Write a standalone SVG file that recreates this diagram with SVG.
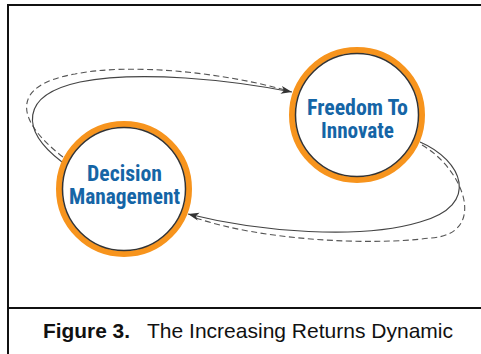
<svg xmlns="http://www.w3.org/2000/svg" width="481" height="354" viewBox="0 0 481 354">
<style>
.frame{stroke:#111;stroke-width:2;fill:none}
.ring{fill:#fff;stroke:#f7941d;stroke-width:6}
.rim{fill:none;stroke:#333;stroke-width:1.5}
.lbl{font-family:"Liberation Sans Narrow","Roboto Condensed","Liberation Sans",Arial,sans-serif;font-weight:bold;fill:#1565a6;text-anchor:middle}
.conn{fill:none;stroke:#444;stroke-width:1.2}
.dash{fill:none;stroke:#555;stroke-width:1.1;stroke-dasharray:6,3.5}
.cap{font-family:"Liberation Sans",Arial,sans-serif;font-size:21px;fill:#111}
</style>
<defs>
<marker id="arr" markerUnits="userSpaceOnUse" markerWidth="12" markerHeight="9" refX="11" refY="4" orient="auto">
<path d="M0,0 L11,4 L0,8 L3,4 z" fill="#333"/>
</marker>
</defs>
<rect width="481" height="354" fill="#fff"/>
<g id="frame">
<line class="frame" x1="8" y1="5" x2="8" y2="354"/>
<line class="frame" x1="7" y1="5" x2="481" y2="5"/>
<line class="frame" x1="8" y1="308" x2="481" y2="308"/>
</g>
<g id="connectors">
<path class="dash" d="M63,157 C15,120 10,85 75,74 C130,63 220,72 285,90"/>
<path class="conn" d="M62,162 C20,130 20,95 80,82 C140,70 230,80 292,92" marker-end="url(#arr)"/>
<path class="dash" d="M422,145 C465,170 488,235 430,238 C370,246 260,240 196,218"/>
<path class="conn" d="M420,142 C462,160 482,205 420,222 C360,240 260,232 188,214" marker-end="url(#arr)"/>
</g>
<g id="freedom">
<circle class="ring" cx="357" cy="115" r="65"/>
<circle class="rim" cx="357" cy="115" r="61.5"/>
<text class="lbl" font-size="22" x="357.5" y="115" textLength="101" lengthAdjust="spacingAndGlyphs">Freedom To</text>
<text class="lbl" font-size="22" x="357.5" y="138" textLength="73" lengthAdjust="spacingAndGlyphs">Innovate</text>
</g>
<g id="decision">
<circle class="ring" cx="124" cy="189" r="65"/>
<circle class="rim" cx="124" cy="189" r="61.5"/>
<text class="lbl" font-size="21.5" x="124.5" y="181" textLength="75" lengthAdjust="spacingAndGlyphs">Decision</text>
<text class="lbl" font-size="21.5" x="124.5" y="204" textLength="111" lengthAdjust="spacingAndGlyphs">Management</text>
</g>
<g id="caption">
<text class="cap" x="43" y="338" font-weight="bold" textLength="87" lengthAdjust="spacingAndGlyphs">Figure 3.</text>
<text class="cap" x="147" y="338" textLength="306" lengthAdjust="spacingAndGlyphs">The Increasing Returns Dynamic</text>
</g>
</svg>
